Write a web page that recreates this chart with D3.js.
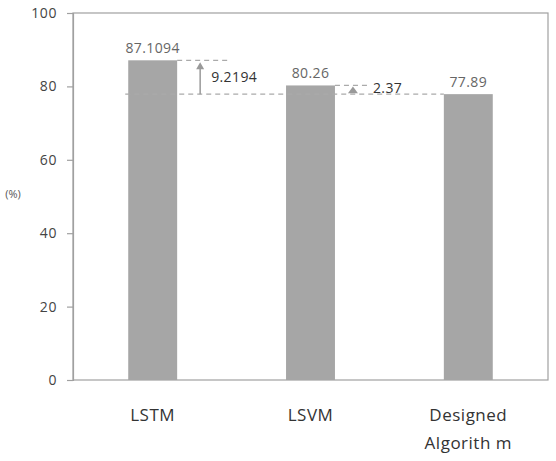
<!DOCTYPE html>
<html>
<head>
<meta charset="utf-8">
<script src="https://cdn.jsdelivr.net/npm/d3@7"></script>
<style>
  body { margin: 0; background: #fff; }
  text { font-family: "Open Sans", sans-serif; }
</style>
</head>
<body>
<div class="canvas"></div>
<script>
const categories = ["LSTM", "LSVM", "Designed Algorithm"];
const values = [87.1094, 80.26, 77.89];
const valueLabels = ["87.1094", "80.26", "77.89"];
const yTicks = [0, 20, 40, 60, 80, 100];
const diffs = [
  { from: 0, to: 2, label: "9.2194" },
  { from: 1, to: 2, label: "2.37" }
];

const width = 556;
const height = 461;
const marginTop = 13;
const marginRight = 8;
const marginBottom = 81;
const marginLeft = 73;

const x = d3.scaleBand()
  .domain(categories)
  .range([marginLeft, width - marginRight])
  .paddingInner(0.69)
  .paddingOuter(0.35);

const y = d3.scaleLinear()
  .domain([0, 100])
  .range([height - marginBottom, marginTop]);

const svg = d3.select(".canvas").append("svg")
  .attr("width", width)
  .attr("height", height);

// frame
svg.append("rect")
  .attr("x", marginLeft)
  .attr("y", marginTop)
  .attr("width", width - marginRight - marginLeft)
  .attr("height", height - marginBottom - marginTop)
  .attr("fill", "none")
  .attr("stroke", "#a0a0a0")
  .attr("stroke-width", 1.2);

// y axis
const gy = svg.append("g")
  .attr("transform", `translate(${marginLeft},0)`)
  .call(d3.axisLeft(y).tickValues(yTicks).tickSize(6).tickPadding(10));
gy.select(".domain").attr("stroke", "#a0a0a0").attr("stroke-width", 1.2);
gy.selectAll(".tick line").attr("stroke", "#a0a0a0").attr("stroke-width", 1.2);
gy.selectAll(".tick text").attr("fill", "#444").style("font-size", "14px").style("letter-spacing", "0.6px");

svg.append("text")
  .attr("x", 13)
  .attr("y", 198)
  .attr("text-anchor", "middle")
  .attr("fill", "#555")
  .style("font-size", "11px")
  .text("(%)");

// bars
svg.selectAll("rect.bar")
  .data(values)
  .join("rect")
    .attr("class", "bar")
    .attr("x", (d, i) => x(categories[i]))
    .attr("y", d => y(d))
    .attr("width", x.bandwidth())
    .attr("height", d => y(0) - y(d))
    .attr("fill", "#a6a6a6");

svg.selectAll("text.val")
  .data(values)
  .join("text")
    .attr("class", "val")
    .attr("x", (d, i) => x(categories[i]) + x.bandwidth() / 2)
    .attr("y", d => y(d) - 7)
    .attr("text-anchor", "middle")
    .attr("fill", "#666")
    .style("font-size", "14px")
    .style("letter-spacing", "0.4px")
    .text((d, i) => valueLabels[i]);

// x labels
const gx = svg.append("g");
categories.forEach((c, i) => {
  const cx = x(c) + x.bandwidth() / 2;
  const t = gx.append("text")
    .attr("x", cx)
    .attr("y", 421)
    .attr("text-anchor", "middle")
    .attr("fill", "#333")
    .style("font-size", "17px")
    .style("letter-spacing", "0.5px");
  if (c === "Designed Algorithm") {
    t.append("tspan").attr("x", cx).attr("dy", 0).text("Designed");
    t.append("tspan").attr("x", cx).attr("dy", 28).text("Algorith m");
  } else {
    t.text(c);
  }
});

// difference annotations
const dash = "5,4";
const base = values[2];
const right0 = x(categories[0]) + x.bandwidth();
const right1 = x(categories[1]) + x.bandwidth();

// baseline dashed line at Designed level
svg.append("line")
  .attr("x1", x(categories[0]) - 3)
  .attr("x2", x(categories[2]))
  .attr("y1", y(base)).attr("y2", y(base))
  .attr("stroke", "#aaa").attr("stroke-dasharray", dash).attr("stroke-width", 1.2);

// LSTM top dashed
svg.append("line")
  .attr("x1", right0).attr("x2", right0 + 54)
  .attr("y1", y(values[0])).attr("y2", y(values[0]))
  .attr("stroke", "#aaa").attr("stroke-dasharray", dash).attr("stroke-width", 1.2);

// LSVM top dashed
svg.append("line")
  .attr("x1", right1).attr("x2", right1 + 34)
  .attr("y1", y(values[1])).attr("y2", y(values[1]))
  .attr("stroke", "#aaa").attr("stroke-dasharray", dash).attr("stroke-width", 1.2);

// arrow 1
const ax1 = right0 + 23;
svg.append("line")
  .attr("x1", ax1).attr("x2", ax1)
  .attr("y1", y(base)).attr("y2", y(values[0]) + 6)
  .attr("stroke", "#999").attr("stroke-width", 1.5);
svg.append("path")
  .attr("d", `M${ax1 - 4},${y(values[0]) + 9} L${ax1},${y(values[0]) + 2} L${ax1 + 4},${y(values[0]) + 9} Z`)
  .attr("fill", "#999");
svg.append("text")
  .attr("x", ax1 + 11)
  .attr("y", (y(base) + y(values[0])) / 2 + 5)
  .attr("fill", "#333")
  .style("font-size", "14px")
  .style("letter-spacing", "0.4px")
  .text(diffs[0].label);

// arrow 2 (small triangle)
const ax2 = right1 + 18;
svg.append("path")
  .attr("d", `M${ax2 - 5},${y(base) - 1} L${ax2},${y(values[1]) + 1} L${ax2 + 5},${y(base) - 1} Z`)
  .attr("fill", "#999");
svg.append("text")
  .attr("x", ax2 + 20)
  .attr("y", y(values[1]) + 8)
  .attr("fill", "#333")
  .style("font-size", "14px")
  .style("letter-spacing", "0.4px")
  .text(diffs[1].label);
</script>
</body>
</html>
